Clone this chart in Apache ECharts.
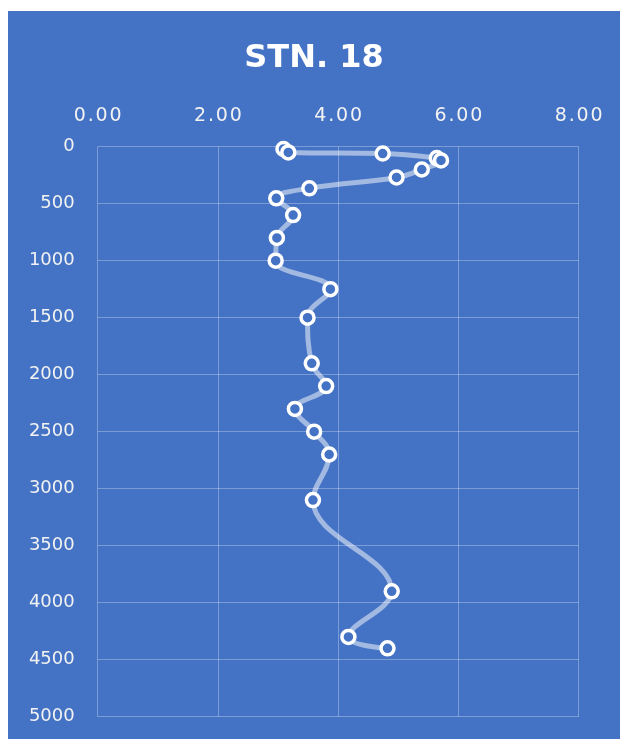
<!DOCTYPE html>
<html>
<head>
<meta charset="utf-8">
<script src="https://cdn.jsdelivr.net/npm/echarts@6/dist/echarts.min.js"></script>
<style>
html,body{margin:0;padding:0;background:#fff;width:620px;height:739px;overflow:hidden;}
#chart{position:absolute;left:8px;top:11px;width:612px;height:728px;}
</style>
</head>
<body>
<div id="chart"></div>
<script>
// Data (x value, depth)
const values = [3.09, 3.17, 4.74, 5.64, 5.71, 5.39, 4.97, 3.52, 2.97, 3.25, 2.98, 2.96, 3.87, 3.49, 3.56, 3.80, 3.28, 3.60, 3.85, 3.58, 4.89, 4.17, 4.82];
const depths = [20, 50, 60, 100, 120, 200, 270, 365, 453, 600, 800, 1000, 1250, 1500, 1900, 2100, 2300, 2500, 2700, 3100, 3900, 4300, 4400];
const titleText = 'STN. 18';

const seriesData = values.map((v, i) => [v, depths[i]]);
const spaced = s => s.split('').join('\u200A');

const chart = echarts.init(document.getElementById('chart'), null, {renderer: 'canvas'});
const gridColor = 'rgba(255,255,255,0.3)';
chart.setOption({
  backgroundColor: '#4472C4',
  animation: false,
  title: {
    text: titleText,
    left: 'center',
    top: 27,
    textStyle: {color: '#fff', fontFamily: 'DejaVu Sans', fontWeight: 'bold', fontSize: 32}
  },
  grid: {left: 89.7, top: 135.7, right: 41.3, bottom: 22.3, containLabel: false},
  xAxis: {
    type: 'value', position: 'top', min: 0, max: 8, interval: 2,
    axisLine: {show: false}, axisTick: {show: false},
    splitLine: {show: true, lineStyle: {color: gridColor, width: 1}},
    axisLabel: {color: '#F2F2F2', fontFamily: 'DejaVu Sans', fontSize: 19, margin: 21,
      formatter: v => spaced(v.toFixed(2))}
  },
  yAxis: {
    type: 'value', inverse: true, min: 0, max: 5000, interval: 500,
    axisLine: {show: false}, axisTick: {show: false},
    splitLine: {show: true, lineStyle: {color: gridColor, width: 1}},
    axisLabel: {color: '#F2F2F2', fontFamily: 'DejaVu Sans', fontSize: 18, margin: 23,
      formatter: v => String(v)}
  },
  series: [{
    type: 'line',
    data: seriesData,
    smooth: 0.4,
    symbol: 'circle',
    symbolSize: 13,
    lineStyle: {color: 'rgba(255,255,255,0.5)', width: 5},
    itemStyle: {color: '#4472C4', borderColor: '#ffffff', borderWidth: 3.5}
  }]
});
</script>
</body>
</html>
